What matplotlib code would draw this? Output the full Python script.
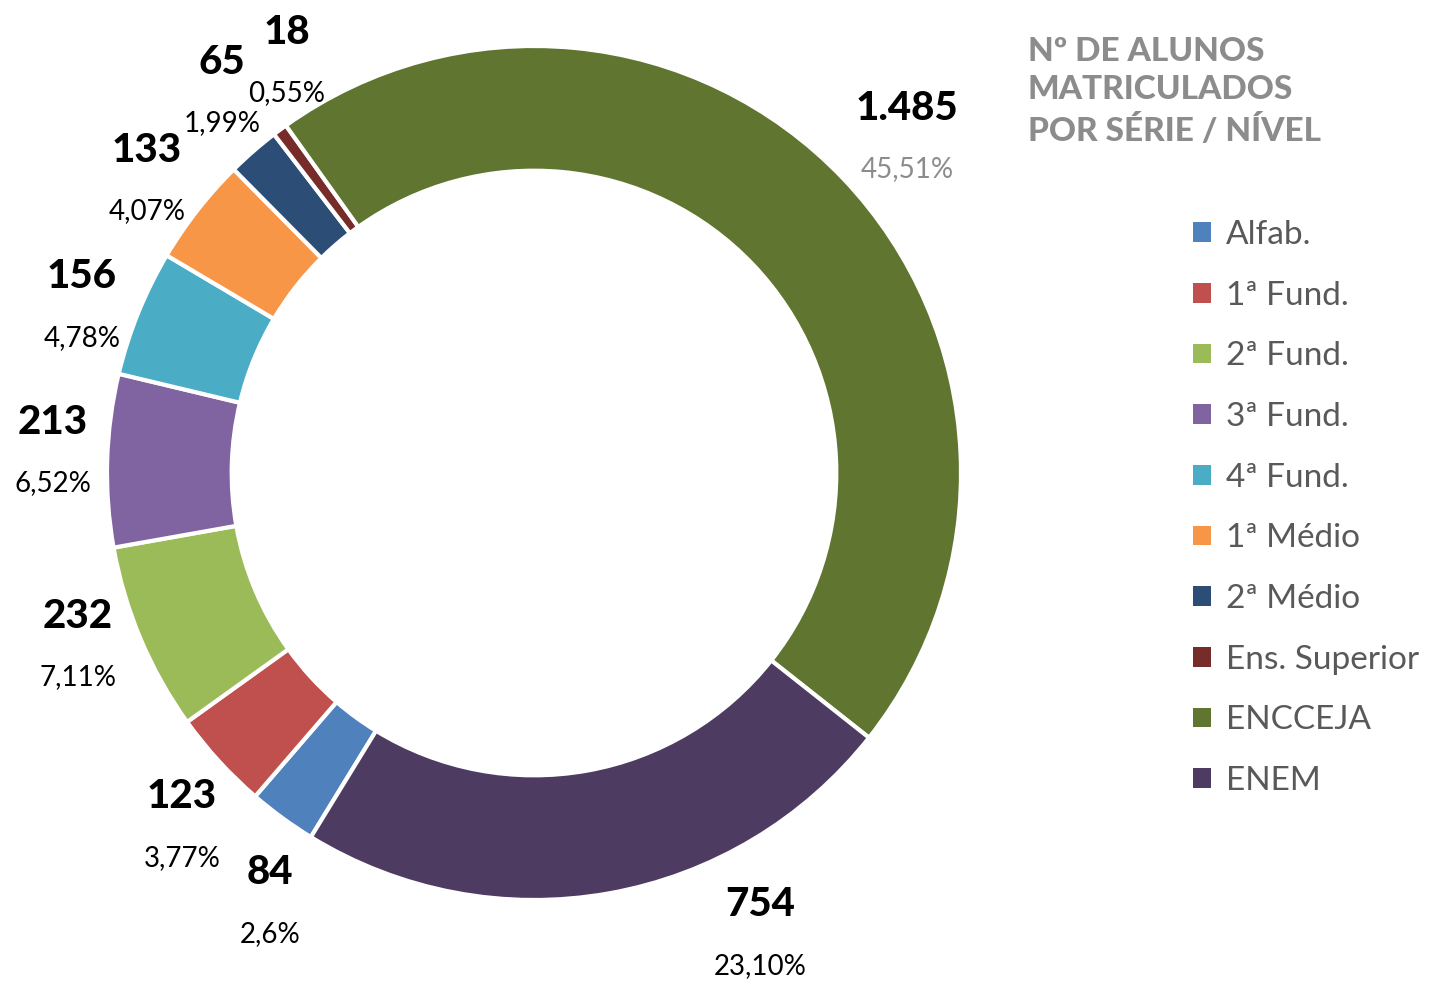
import matplotlib.pyplot as plt

# data
categories = ['Alfab.', '1ª Fund.', '2ª Fund.', '3ª Fund.', '4ª Fund.',
              '1ª Médio', '2ª Médio', 'Ens. Superior', 'ENCCEJA', 'ENEM']
alunos = [84, 123, 232, 213, 156, 133, 65, 18, 1485, 754]
num_labels = ['84', '123', '232', '213', '156', '133', '65', '18', '1.485', '754']
pct_labels = ['2,6%', '3,77%', '7,11%', '6,52%', '4,78%', '4,07%', '1,99%',
              '0,55%', '45,51%', '23,10%']

colors = ['#4F81BD', '#C0504D', '#9BBB59', '#8064A2', '#4BACC6',
          '#F79646', '#2C4D75', '#772C2A', '#5F7530', '#4D3B62']

# label centers in pixels (from top-left)
label_pos = [(270, 873), (182, 797), (78, 616), (53, 422), (82, 277),
             (147, 150), (222, 62), (287, 32), (907, 108), (760, 905)]

W, H = 1429, 981
fig = plt.figure(figsize=(W / 100, H / 100), dpi=100)
ax = fig.add_axes([0, 0, 1, 1])

cx, cy, R = 534, H - 473, 427
wedges, _ = ax.pie(alunos, colors=colors, startangle=-121.5, counterclock=False,
                   center=(cx, cy), radius=R,
                   wedgeprops=dict(width=R * 0.292, edgecolor='white', linewidth=3))
ax.set_xlim(0, W)
ax.set_ylim(0, H)
ax.set_aspect('auto')
ax.axis('off')

for i, (px, py) in enumerate(label_pos):
    ax.text(px, H - py, num_labels[i], ha='center', va='center',
            fontsize=29, fontweight='black', family='Lato', color='black')
    pct_color = '#8C8C8C' if i == 8 else 'black'
    ax.text(px, H - py - 61, pct_labels[i], ha='center', va='center',
            fontsize=20, fontweight='normal', family='Lato', color=pct_color)

ax.text(1028, H - 37, 'Nº DE ALUNOS\nMATRICULADOS\nPOR SÉRIE / NÍVEL',
        ha='left', va='top', fontsize=24, fontweight='black', family='Lato',
        color='#8C8C8C', linespacing=1.38)

leg = ax.legend(wedges, categories, loc='upper left',
                bbox_to_anchor=(1163 / W, 1 - 190 / H), frameon=False,
                prop=dict(family='Lato', size=24), labelcolor='#595959',
                handlelength=0.54, handleheight=0.54, handletextpad=0.45,
                labelspacing=0.92)
for h in leg.legend_handles:
    h.set_edgecolor('none')

fig.savefig('out.png', dpi=100)
